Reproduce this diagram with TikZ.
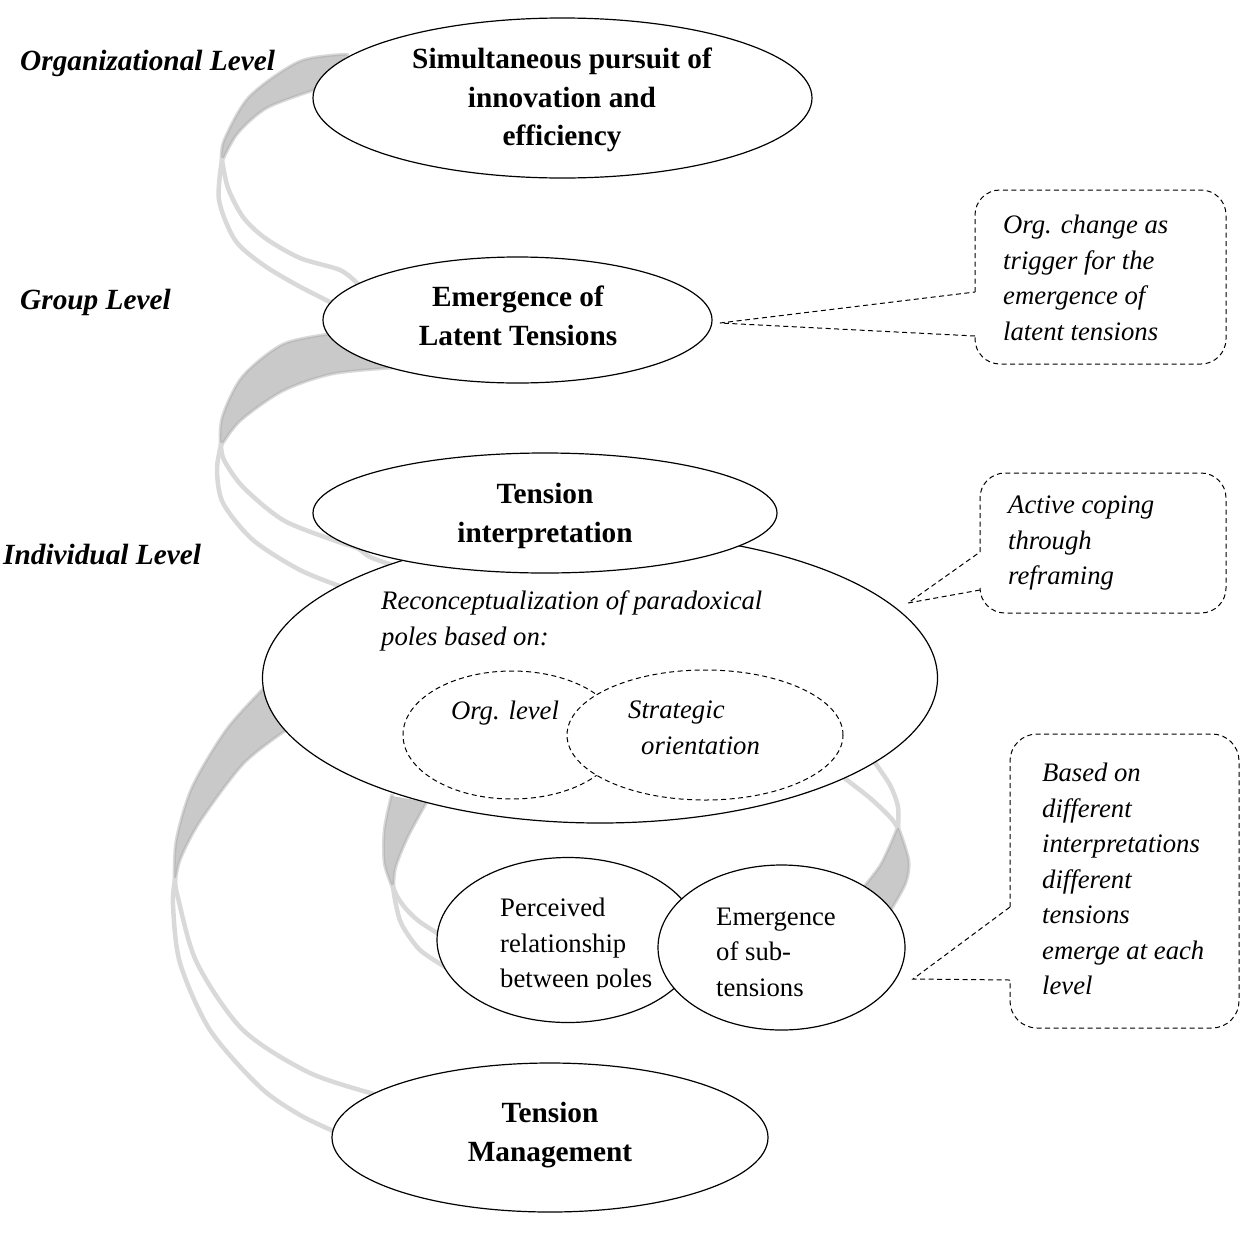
\documentclass[tikz,border=0pt]{standalone}
\usepackage{fontspec}
\setmainfont{Liberation Serif}
\usetikzlibrary{shapes.geometric}
\tikzset{
 oval/.style={ellipse, draw=black, line width=1.2pt, fill=white, inner sep=0pt},
 dashoval/.style={ellipse, draw=black, line width=1pt, dash pattern=on 5pt off 3.5pt, fill=white, inner sep=0pt},
 boldtxt/.style={font=\fontsize{29.3pt}{38.5pt}\selectfont\bfseries, align=center, inner sep=0pt},
 plaintxt/.style={font=\fontsize{26.7pt}{35.5pt}\selectfont, align=left, inner sep=0pt, anchor=west},
 itxt/.style={font=\fontsize{26.7pt}{35.5pt}\selectfont\itshape, align=left, inner sep=0pt, anchor=west},
 leveltxt/.style={font=\fontsize{29.3pt}{38.5pt}\selectfont\bfseries\itshape, inner sep=0pt, anchor=west},
 band/.style={fill=black!21},
 bandedge/.style={draw=black!15, line width=4.5pt, line cap=round},
 bandcore/.style={draw=black!27, line width=1.3pt},
 callout/.style={draw=black, line width=1pt, dash pattern=on 5pt off 3.5pt},
}
\begin{document}
\begin{tikzpicture}[x=1pt,y=-1pt]
\useasboundingbox (0,0) rectangle (1241,1237);
% ---------- ribbon 1
\draw[bandedge] plot[smooth] coordinates {(347,55) (300,62) (250,97) (225,140) (222,160)};
\draw[bandedge] plot[smooth] coordinates {(222,160) (237,133) (267,107) (318,88)};
\fill[band] plot[smooth] coordinates {(347,55) (300,62) (250,97) (225,140) (222,160)} -- plot[smooth] coordinates {(222,160) (237,133) (267,107) (318,88)} -- cycle;
\draw[bandcore] plot[smooth] coordinates {(347,55) (300,62) (250,97) (225,140) (222,160)};
\draw[bandcore] plot[smooth] coordinates {(222,160) (237,133) (267,107) (318,88)};
\draw[bandedge] plot[smooth] coordinates {(222,160) (219,200) (235,240) (262,264) (295,284) (330,302)};
\draw[bandedge] plot[smooth] coordinates {(222,160) (228,188) (243,217) (265,238) (300,258) (340,270) (358,284)};
% ---------- ribbon 2
\draw[bandedge] plot[smooth] coordinates {(328,335) (283,345) (243,377) (223,417) (221,445)};
\draw[bandedge] plot[smooth] coordinates {(221,445) (240,420) (283,390) (333,373) (395,367)};
\fill[band] plot[smooth] coordinates {(328,335) (283,345) (243,377) (223,417) (221,445)} -- plot[smooth] coordinates {(221,445) (240,420) (283,390) (333,373) (395,367)} -- cycle;
\draw[bandcore] plot[smooth] coordinates {(328,335) (283,345) (243,377) (223,417) (221,445)};
\draw[bandcore] plot[smooth] coordinates {(221,445) (240,420) (283,390) (333,373) (395,367)};
\draw[bandedge] plot[smooth] coordinates {(221,445) (217,470) (223,503) (253,540) (300,570) (345,588)};
\draw[bandedge] plot[smooth] coordinates {(221,445) (224,460) (243,487) (283,520) (333,540) (357,548) (370,557) (392,565)};
% ---------- ribbon 3
\draw[bandedge] plot[smooth] coordinates {(265,688) (227,730) (193,787) (177,840) (175,880)};
\draw[bandedge] plot[smooth] coordinates {(175,880) (180,858) (200,820) (243,763) (285,730)};
\fill[band] plot[smooth] coordinates {(265,688) (227,730) (193,787) (177,840) (175,880)} -- plot[smooth] coordinates {(175,880) (180,858) (200,820) (243,763) (285,730)} -- cycle;
\draw[bandcore] plot[smooth] coordinates {(265,688) (227,730) (193,787) (177,840) (175,880)};
\draw[bandcore] plot[smooth] coordinates {(175,880) (180,858) (200,820) (243,763) (285,730)};
\draw[bandedge] plot[smooth] coordinates {(175,880) (173,905) (180,963) (210,1030) (260,1087) (300,1115) (338,1133)};
\draw[bandedge] plot[smooth] coordinates {(175,880) (178,898) (197,963) (243,1030) (310,1073) (378,1095)};
% ---------- ribbon 4
\draw[bandedge] plot[smooth] coordinates {(392,796) (385,830) (385,863) (393,887)};
\draw[bandedge] plot[smooth] coordinates {(393,887) (395,867) (407,837) (426,802)};
\fill[band] plot[smooth] coordinates {(392,796) (385,830) (385,863) (393,887)} -- plot[smooth] coordinates {(393,887) (395,867) (407,837) (426,802)} -- cycle;
\draw[bandcore] plot[smooth] coordinates {(392,796) (385,830) (385,863) (393,887)};
\draw[bandcore] plot[smooth] coordinates {(393,887) (395,867) (407,837) (426,802)};
\draw[bandedge] plot[smooth] coordinates {(393,887) (398,898) (407,910) (420,922) (442,936)};
\draw[bandedge] plot[smooth] coordinates {(393,887) (396,905) (402,925) (420,950) (447,968)};
% ---------- ribbon 5
\draw[bandedge] plot[smooth] coordinates {(873,760) (890,785) (898,807) (898,828)};
\draw[bandedge] plot[smooth] coordinates {(843,777) (870,798) (890,817) (898,828)};
\draw[bandedge] plot[smooth] coordinates {(898,828) (908,860) (905,883) (890,910)};
\draw[bandedge] plot[smooth] coordinates {(898,828) (890,847) (880,867) (863,889)};
\fill[band] plot[smooth] coordinates {(898,828) (908,860) (905,883) (890,910)} -- plot[smooth] coordinates {(863,889) (880,867) (890,847) (898,828)} -- cycle;
\draw[bandcore] plot[smooth] coordinates {(898,828) (908,860) (905,883) (890,910)};
\draw[bandcore] plot[smooth] coordinates {(898,828) (890,847) (880,867) (863,889)};
% ---------- ellipses
\node[oval, minimum width=499pt, minimum height=160pt] (e1) at (562.5,98) {};
\node[boldtxt] (t1) at (562,100) {Simultaneous pursuit of\\innovation and\\efficiency};
\node[oval, minimum width=389pt, minimum height=126pt] (e2) at (517.5,320) {};
\node[boldtxt] (t2) at (518,316) {Emergence of\\Latent Tensions};
\node[oval, minimum width=675pt, minimum height=290pt] (e4) at (600,678) {};
\node[oval, minimum width=464pt, minimum height=120pt] (e3) at (545,513) {};
\node[boldtxt] (t3) at (545,516) {Tension\\interpretation};
\node[itxt] (t4) at (381,621) {Reconceptualization of paradoxical\\poles based on:};
\node[dashoval, minimum width=218pt, minimum height=128pt] (d1) at (512,735) {};
\node[dashoval, minimum width=276pt, minimum height=130pt] (d2) at (705,735) {};
\node[itxt, anchor=center] (t5) at (505,713) {Org. level};
\node[itxt] (t6) at (628,728) {Strategic\\\hspace*{13pt}orientation};
\node[oval, minimum width=262pt, minimum height=165pt] (e5) at (568,940) {};
\node[oval, minimum width=247pt, minimum height=165pt] (e6) at (781.5,947.5) {};
\begin{scope}
\clip (480,880) rectangle (660,988);
\node[plaintxt] (t7) at (500,946) {Perceived\\relationship\\between poles};
\end{scope}
\begin{scope}
\clip (700,880) rectangle (860,997);
\node[plaintxt] (t8) at (716,952) {Emergence\\of sub-\\tensions};
\end{scope}
\node[oval, minimum width=436pt, minimum height=149pt] (e7) at (550,1137.5) {};
\node[boldtxt] (t9) at (550,1135) {Tension\\Management};
% ---------- level labels
\node[leveltxt] (l1) at (20,63) {Organizational Level};
\node[leveltxt] (l2) at (20,302) {Group Level};
\node[leveltxt] (l3) at (3,554) {Individual Level};
% ---------- callouts
\coordinate (c1tip) at (720,323);
\draw[callout, rounded corners=25pt] (975,292) -- (975,190) -- (1226,190) -- (1226,364) -- (975,364) -- (975,336);
\draw[callout] (975,336) -- (c1tip) -- (975,292);
\node[itxt] (c1) at (1003,278) {Org. change as\\trigger for the\\emergence of\\latent tensions};
\coordinate (c2tip) at (908,603);
\draw[callout, rounded corners=25pt] (980,552) -- (980,473) -- (1226,473) -- (1226,613) -- (980,613) -- (980,590);
\draw[callout] (980,590) -- (c2tip) -- (980,552);
\node[itxt] (c2) at (1008,543) {Active coping\\through\\reframing};
\coordinate (c3tip) at (913,979);
\draw[callout, rounded corners=27pt] (1010,907) -- (1010,734) -- (1239,734) -- (1239,1028) -- (1010,1028) -- (1010,980);
\draw[callout] (1010,980) -- (c3tip) -- (1010,907);
\node[itxt] (c3) at (1042,879) {Based on\\different\\interpretations\\different\\tensions\\emerge at each\\level};
\end{tikzpicture}
\end{document}
